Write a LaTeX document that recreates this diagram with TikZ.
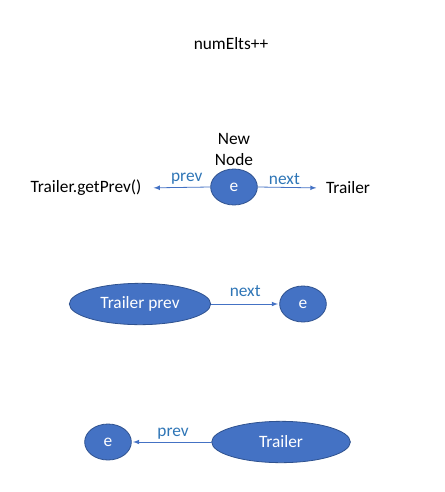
\documentclass[tikz,border=0pt]{standalone}
\usepackage{fontspec}
\setmainfont{Carlito}
\usepackage{xcolor}
\usetikzlibrary{shapes,arrows,positioning,calc}
\definecolor{officeblue}{HTML}{4472C4}
\definecolor{officeedge}{HTML}{2F528F}
\definecolor{labelblue}{HTML}{2E75B6}
\begin{document}
\begin{tikzpicture}[x=0.75pt,y=-0.75pt,>=latex,font=\fontsize{13}{15}\selectfont]
	\tikzstyle{block} = [draw=officeedge,ellipse,fill=officeblue,text=white,inner sep=0pt,line width=0.6pt]
	\tikzstyle{small} = [block,minimum width=35pt,minimum height=27pt]
	\tikzstyle{big} = [block,minimum width=106pt,minimum height=31pt]
	\tikzstyle{plain} = [text=black,inner sep=1pt]
	\tikzset{
		link/.style={->,draw=officeblue,line width=0.6pt,shorten >=1pt},
		lbl/.style={text=labelblue,inner sep=1pt}
	}
	\useasboundingbox (0,0) rectangle (445,492);
	
	\node[plain] (T0) at (231,44) {numElts++};
	
	% new node
	\node[small] (T1) at (234,187) {e};
	\node[plain,align=center,above=1pt of T1] (T1l) {New\\[1pt]Node};
	\node[plain] (T2) at (86,188) {Trailer.getPrev()};
	\node[plain] (T3) at (348,188) {Trailer};
	\draw[link,shorten >=8pt] (T1.west) -- node[lbl,above=1pt,pos=0.35] {prev} (T2.east);
	\draw[link,shorten >=6pt] (T1.east) -- node[lbl,above=1pt,pos=0.4] {next} (T3.west);
	
	% trailer prev -> e
	\node[big] (T4) at (140,304) {Trailer prev};
	\node[small] (T5) at (303,304) {e};
	\draw[link] (T4.east) -- node[lbl,above=4pt] {next} (T5.west);
	
	% trailer -> e
	\node[small] (T6) at (108,442) {e};
	\node[big,minimum width=104pt] (T7) at (281,442) {Trailer};
	\draw[link] (T7.west) -- node[lbl,above=1pt,pos=0.48] {prev} (T6.east);
\end{tikzpicture}
\end{document}
